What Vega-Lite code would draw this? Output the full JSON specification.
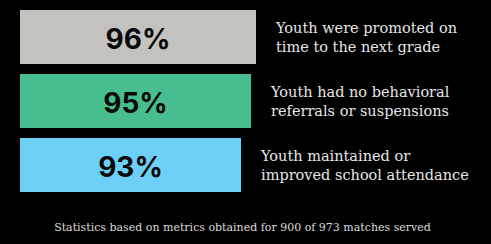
{
  "$schema": "https://vega.github.io/schema/vega-lite/v6.json",
  "width": 491,
  "height": 244,
  "padding": 0,
  "autosize": {"type": "none"},
  "background": "#000000",
  "config": {"view": {"stroke": null}},
  "title": {
    "text": "Statistics based on metrics obtained for 900 of 973 matches served",
    "orient": "bottom",
    "anchor": "middle",
    "font": "DejaVu Serif",
    "fontSize": 11,
    "fontWeight": "normal",
    "color": "#dcdcdc",
    "baseline": "alphabetic",
    "offset": -13,
    "dx": -3
  },
  "data": {
    "values": [
      {"metric": "promoted", "rate": 0.96, "desc": "Youth were promoted on\ntime to the next grade"},
      {"metric": "behavior", "rate": 0.95, "desc": "Youth had no behavioral\nreferrals or suspensions"},
      {"metric": "attendance", "rate": 0.93, "desc": "Youth maintained or\nimproved school attendance"}
    ]
  },
  "encoding": {
    "y": {
      "field": "metric",
      "type": "nominal",
      "sort": null,
      "axis": null,
      "scale": {"range": [5, 197], "paddingInner": 0.15625, "paddingOuter": 0.078125}
    }
  },
  "layer": [
    {
      "mark": {"type": "bar"},
      "encoding": {
        "x": {"field": "rate", "type": "quantitative", "axis": null, "scale": {"domain": [0.488, 1.43], "range": [20, 491], "zero": false, "nice": false}},
        "x2": {"datum": 0.488},
        "color": {
          "field": "metric",
          "type": "nominal",
          "legend": null,
          "scale": {"domain": ["promoted", "behavior", "attendance"], "range": ["#c4c2bf", "#48be8f", "#6dcff6"]}
        }
      }
    },
    {
      "transform": [{"calculate": "(0.488 + datum.rate) / 2", "as": "mid"}],
      "mark": {"type": "text", "font": "Inter", "fontSize": 28, "fontWeight": 700, "color": "#0a0a0a", "align": "center", "baseline": "alphabetic", "dy": 12},
      "encoding": {
        "x": {"field": "mid", "type": "quantitative"},
        "text": {"field": "rate", "type": "quantitative", "format": ".0%"}
      }
    },
    {
      "mark": {"type": "text", "font": "DejaVu Serif", "fontSize": 14.5, "color": "#e6e6e6", "align": "left", "baseline": "alphabetic", "dx": 20, "dy": -4, "lineBreak": "\n", "lineHeight": 19},
      "encoding": {
        "x": {"field": "rate", "type": "quantitative"},
        "text": {"field": "desc", "type": "nominal"}
      }
    }
  ]
}
